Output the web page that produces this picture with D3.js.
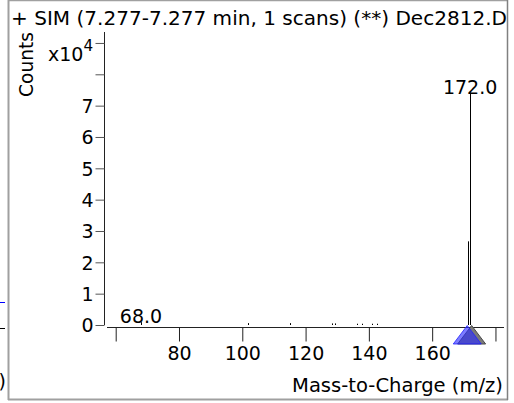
<!DOCTYPE html>
<html>
<head>
<meta charset="utf-8">
<script src="https://cdn.jsdelivr.net/npm/d3@7"></script>
<style>
  html, body { margin: 0; padding: 0; background: #fff; }
  svg { display: block; }
  text { font-family: "DejaVu Sans", sans-serif; fill: #000; }
</style>
</head>
<body>
<svg id="chart" width="514" height="403"></svg>
<script>
// ---- data ----
const titleText = "+ SIM (7.277-7.277 min, 1 scans) (**) Dec2812.D";
const xLabel = "Mass-to-Charge (m/z)";
const yLabel = "Counts";
const mzValues = [68.0, 101.9, 115.1, 128.2, 129.3, 136.1, 137.7, 140.9, 142.5, 171.4, 172.0];
const countValues = [900, 600, 600, 500, 500, 400, 400, 400, 400, 26700, 74000];
const peakLabels = [{mz: 68.0, counts: 900, text: "68.0"}, {mz: 172.0, counts: 74000, text: "172.0"}];
const xTicks = [60, 80, 100, 120, 140, 160, 180];
const xTickLabels = ["", "80", "100", "120", "140", "160", ""];
const yTicks = [0, 1, 2, 3, 4, 5, 6, 7, 8, 9];
const yTickLabels = ["0", "1", "2", "3", "4", "5", "6", "7", "", ""];
const markerMz = [172.0, 171.4];          // gray, blue precursor markers
const markerColors = ["#7a7a7a", "#2b2bff"];

const svg = d3.select("#chart");
const fsText = 19, fsNum = 19;

// ---- frame ----
svg.append("line").attr("x1", 8.5).attr("x2", 8.5).attr("y1", 0).attr("y2", 400)
  .attr("stroke", "#a0a0a0").attr("stroke-width", 2);
svg.append("line").attr("x1", 8).attr("x2", 508).attr("y1", 399.5).attr("y2", 399.5)
  .attr("stroke", "#a0a0a0").attr("stroke-width", 2);
svg.append("line").attr("x1", 8).attr("x2", 508).attr("y1", 0.5).attr("y2", 0.5)
  .attr("stroke", "#a0a0a0").attr("stroke-width", 1.5);
svg.append("line").attr("x1", 507.5).attr("x2", 507.5).attr("y1", 0).attr("y2", 400)
  .attr("stroke", "#808080").attr("stroke-width", 1.5);

// neighbouring panel remnants
svg.append("line").attr("x1", 0).attr("x2", 5).attr("y1", 302.5).attr("y2", 302.5).attr("stroke", "#0000ff");
svg.append("line").attr("x1", 0).attr("x2", 5).attr("y1", 328.5).attr("y2", 328.5).attr("stroke", "#000");
svg.append("text").attr("x", 6).attr("y", 388).attr("text-anchor", "end").attr("font-size", fsText).text(")");

// ---- scales ----
const x = d3.scaleLinear().domain([57.25, 182.7]).range([107, 504]);
const y = d3.scaleLinear().domain([0, 93500]).range([325, 32]);

// ---- y axis ----
const yAxis = d3.axisLeft(y).tickValues(yTicks.map(v => v * 1e4))
  .tickSize(9).tickPadding(2)
  .tickFormat((d, i) => yTickLabels[i]);
const gy = svg.append("g").attr("transform", "translate(104.5,0)").call(yAxis);
gy.select(".domain").attr("stroke", "#222").attr("d", `M0,${y.range()[1]}V${y(0)}`);
gy.selectAll(".tick line").attr("stroke", "#555");
gy.selectAll(".tick text").attr("font-size", fsNum).attr("font-family", null).attr("dy", "0.36em");

// ---- x axis ----
const xAxis = d3.axisBottom(x).tickValues(xTicks).tickSize(14).tickPadding(5)
  .tickFormat((d, i) => xTickLabels[i]);
const gx = svg.append("g").attr("transform", "translate(0,327.5)").call(xAxis);
gx.select(".domain").attr("stroke", "#222").attr("d", `M${x.range()[0]},0H${x.range()[1]}`);
gx.selectAll(".tick line").attr("stroke", "#222");
gx.selectAll(".tick text").attr("font-size", fsNum).attr("font-family", null);

// ---- exponent label ----
const exp = svg.append("text").attr("x", 48).attr("y", 61).attr("font-size", fsNum);
exp.append("tspan").text("x10");
exp.append("tspan").attr("dy", -10).attr("font-size", fsNum * 0.8).text("4");

// ---- titles ----
svg.append("text").attr("x", 11).attr("y", 25).attr("font-size", fsText)
  .attr("textLength", 496).attr("lengthAdjust", "spacingAndGlyphs").text(titleText);
svg.append("text").attr("transform", "translate(33,64.5) rotate(-90)")
  .attr("text-anchor", "middle").attr("font-size", fsText)
  .attr("textLength", 65).attr("lengthAdjust", "spacingAndGlyphs").text(yLabel);
svg.append("text").attr("x", 292).attr("y", 392).attr("font-size", fsText)
  .attr("textLength", 211).attr("lengthAdjust", "spacingAndGlyphs").text(xLabel);

// ---- markers ----
const tri = (cx) => `M${cx},325.5L${cx - 14},344L${cx + 14},344Z`;
svg.append("path").attr("d", tri(x(markerMz[0]) + 1.5))
  .attr("fill", markerColors[0]).attr("stroke", "#4a4a4a");
svg.append("path").attr("d", tri(x(markerMz[1]) - 1))
  .attr("fill", markerColors[1]).attr("fill-opacity", 0.62)
  .attr("stroke", "#2020ff").attr("stroke-opacity", 0.8);

// ---- peaks ----
svg.append("g").selectAll("line").data(mzValues).join("line")
  .attr("x1", d => Math.round(x(d)) + 0.5).attr("x2", d => Math.round(x(d)) + 0.5)
  .attr("y1", y(0)).attr("y2", (d, i) => y(countValues[i]))
  .attr("stroke", "#000").attr("stroke-width", 1);

// ---- peak labels ----
svg.append("g").selectAll("text").data(peakLabels).join("text")
  .attr("x", d => x(d.mz)).attr("y", d => y(d.counts) + 0.5)
  .attr("text-anchor", "middle").attr("font-size", fsNum).text(d => d.text);
</script>
</body>
</html>
